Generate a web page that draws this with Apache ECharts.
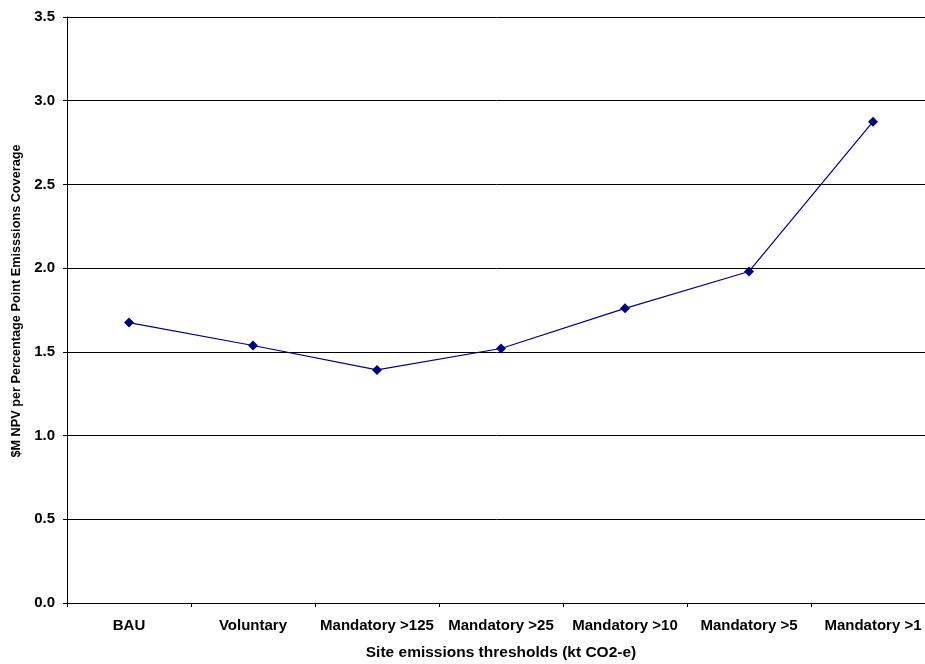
<!DOCTYPE html>
<html>
<head>
<meta charset="utf-8">
<script src="https://cdn.jsdelivr.net/npm/echarts@6/dist/echarts.min.js"></script>
<style>
  html, body { margin: 0; padding: 0; background: #fff; }
  #main { width: 925px; height: 664px; }
</style>
</head>
<body>
<div id="main"></div>
<script>
// categories along the x axis
var categories = ["BAU", "Voluntary", "Mandatory >125", "Mandatory >25", "Mandatory >10", "Mandatory >5", "Mandatory >1"];
// $M NPV per percentage point emissions coverage
var npvValues = [1.675, 1.538, 1.392, 1.52, 1.76, 1.98, 2.875];

var myChart = echarts.init(document.getElementById("main"));

var option = {
  backgroundColor: "#fff",
  textStyle: { fontFamily: "Liberation Sans, Arial, sans-serif" },
  grid: {
    left: 67,
    top: 17,
    width: 868, // plot runs past the right edge, like the original
    height: 586,
    outerBoundsMode: "none"
  },
  xAxis: {
    type: "category",
    data: categories,
    boundaryGap: true,
    name: "Site emissions thresholds (kt CO2-e)",
    nameLocation: "middle",
    nameGap: 41.5,
    nameTextStyle: { fontWeight: "bold", fontSize: 15.5, color: "#000" },
    axisLine: { lineStyle: { color: "#000", width: 1 } },
    axisTick: { show: true, length: 4, lineStyle: { color: "#000" } },
    axisLabel: { interval: 0, fontWeight: "bold", fontSize: 15, color: "#000", margin: 15 },
    splitLine: { show: false }
  },
  yAxis: {
    type: "value",
    min: 0,
    max: 3.5,
    interval: 0.5,
    name: "$M NPV per Percentage Point Emisssions Coverage",
    nameLocation: "middle",
    nameGap: 43,
    nameTextStyle: { fontWeight: "bold", fontSize: 12.7, color: "#000", padding: [0, 0, 0, 18] },
    axisLine: { show: true, lineStyle: { color: "#000", width: 1 } },
    axisTick: { show: true, length: 4, lineStyle: { color: "#000" } },
    axisLabel: {
      fontWeight: "bold",
      fontSize: 15,
      color: "#000",
      margin: 12,
      formatter: function (v) { return v.toFixed(1); }
    },
    splitLine: { show: true, lineStyle: { color: "#000", width: 1 } }
  },
  series: [
    {
      type: "line",
      data: npvValues,
      symbol: "diamond",
      symbolSize: 10,
      itemStyle: { color: "#000080" },
      lineStyle: { color: "#000080", width: 1.2 },
      animation: false
    }
  ]
};

myChart.setOption(option);
</script>
</body>
</html>
